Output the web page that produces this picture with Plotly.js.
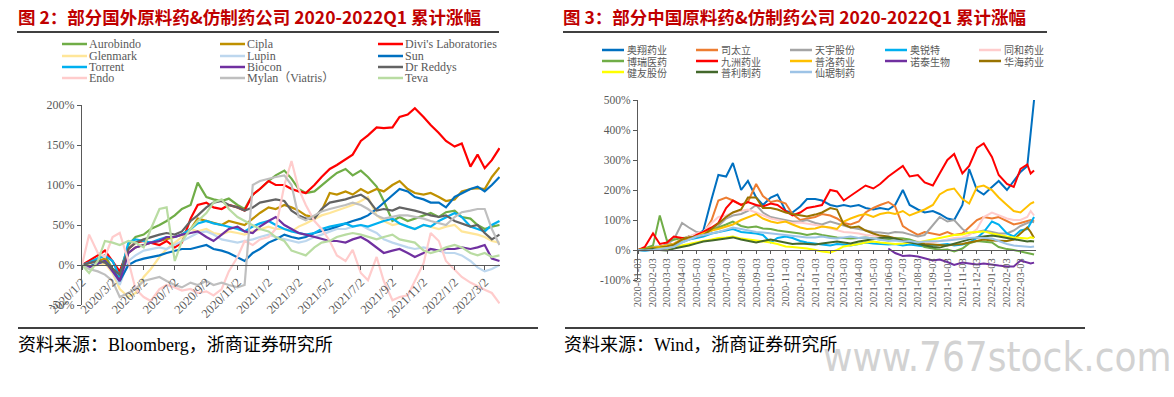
<!DOCTYPE html>
<html><head><meta charset="utf-8">
<script src="https://cdn.plot.ly/plotly-3.0.1.min.js"></script>
<style>html,body{margin:0;padding:0;background:#fff;} #chart{width:1174px;height:397px;}</style>
</head><body><div id="chart"></div>
<script>
// ---------- LEFT CHART DATA (cumulative change, %) ----------
const leftDates = ['2020-01-02','2020-01-16','2020-02-02','2020-02-16','2020-03-02','2020-03-16','2020-04-02','2020-04-16','2020-05-02','2020-05-16','2020-06-02','2020-06-16','2020-07-02','2020-07-16','2020-08-02','2020-08-16','2020-09-02','2020-09-16','2020-10-02','2020-10-16','2020-11-02','2020-11-16','2020-12-02','2020-12-16','2021-01-02','2021-01-16','2021-02-02','2021-02-16','2021-03-02','2021-03-16','2021-04-02','2021-04-16','2021-05-02','2021-05-16','2021-06-02','2021-06-16','2021-07-02','2021-07-16','2021-08-02','2021-08-16','2021-09-02','2021-09-16','2021-10-02','2021-10-16','2021-11-02','2021-11-16','2021-12-02','2021-12-16','2022-01-02','2022-01-16','2022-02-02','2022-02-16','2022-03-02','2022-03-16','2022-03-31'];
const leftNames = ['Aurobindo','Cipla',"Divi's Laboratories",'Glenmark','Lupin','Sun','Torrent','Biocon','Dr Reddys','Endo','Mylan（Viatris）','Teva'];
const aurobindo = [0,3, 8,12, -5,-10, 25,35, 38,45, 50,55, 62,70, 75,103, 85,82, 80,83, 75,70, 88,95, 105,112, 118,108, 95,90, 92,100, 108,115, 120,112, 118,110, 98,80, 55,60, 55,58, 62,65, 60,66, 68,60, 58,50, 45,48,50];
const cipla = [0,2, 5,8, -5,-18, 15,22, 25,28, 30,32, 35,38, 45,58, 55,52, 50,55, 52,50, 58,65, 72,70, 75,72, 68,62, 60,68, 90,88, 92,88, 95,90, 95,92, 100,105, 95,90, 88,90, 85,80, 82,92, 95,96, 95,110,122];
const divis = [0,5, 12,18, 5,-8, 20,28, 30,28, 25,30, 22,28, 58,75, 78,72, 70,75, 72,68, 88,95, 105,100, 100,95, 92,90, 100,110, 120,125, 132,138, 155,162, 172,171, 172,185, 188,196, 185,175, 165,155, 148,152, 123,138, 121,131,146];
const glenmark = [0,-3, 0,2, -10,-30, -40,-35, -15,-5, 10,20, 28,35, 45,42, 45,40, 38,42, 40,38, 42,45, 48,45, 45,42, 48,52, 58,62, 65,68, 72,75, 80,85, 62,55, 50,52, 48,45, 50,48, 45,48, 50,42, 40,38, 35,30,28];
const lupin = [0,-2, 2,5, -8,-25, 5,12, 18,20, 22,20, 25,30, 35,40, 42,38, 32,30, 28,30, 32,35, 38,35, 32,30, 28,30, 35,38, 42,45, 45,48, 50,45, 40,32, 28,25, 22,20, 22,20, 18,15, 15,12, 5,-3, -8,-5,0];
const sun = [0,-2, 2,5, -5,-20, 0,5, 8,10, 12,15, 18,20, 20,22, 25,20, 18,15, 10,5, 15,20, 28,32, 38,35, 33,35, 40,42, 45,48, 52,55, 58,62, 70,78, 88,95, 92,85, 82,78, 78,72, 85,90, 95,98, 92,100,110];
const torrent = [0,3, 8,12, 5,-15, 28,32, 30,28, 32,35, 35,38, 45,52, 55,52, 50,48, 45,42, 48,52, 55,50, 45,42, 40,38, 40,45, 48,50, 52,48, 50,48, 52,55, 58,52, 48,45, 50,48, 55,60, 65,60, 48,45, 42,50,55];
const biocon = [0,-3, 2,5, -8,-20, 15,22, 25,28, 30,35, 35,38, 40,42, 35,30, 38,45, 48,42, 40,48, 55,60, 50,45, 40,38, 35,32, 30,30, 28,32, 35,30, 22,15, 18,20, 15,10, 15,20, 18,20, 20,22, 20,22, 25,8,5];
const drreddys = [0,2, 5,3, -5,-12, 20,28, 32,35, 38,40, 38,42, 55,62, 72,78, 80,75, 72,68, 72,78, 80,82, 80,68, 62,58, 58,70, 78,80, 82,85, 88,82, 68,70, 68,72, 70,68, 65,62, 60,62, 55,52, 48,50, 40,32,38];
const endo = [0,38, 15,10, 35,40, 5,-30, -40,-45, -30,-25, -28,-32, -30,-35, -33,-38, -30,-8, 10,30, 25,32, 35,45, 100,130, 95,75, 55,45, 30,12, 5,19, -10,-19, 10,-20, -44,-40, -38,-20, 2,40, 30,5, -6,-15, -22,-27, -31,-35,-48];
const mylan = [0,-5, -8,-12, -20,-40, -35,-30, -20,-18, -15,-20, -25,-28, -22,-25, -20,-25, -22,-25, -28,-25, 100,105, 108,110, 112,100, 60,56, 62,67, 70,72, 75,78, 75,70, 62,58, 60,62, 62,60, 58,55, 52,50, 60,66, 68,70, 70,45,25];
const teva = [0,-10, 5,30, 28,25, 30,28, 22,45, 70,72, 5,30, 45,55, 65,78, 82,70, 60,55, 50,45, 42,35, 30,18, 15,12, 22,28, 30,35, 38,40, 38,35, 32,35, 38,32, 30,28, 18,15, 18,22, 25,22, 15,12, 15,10,12];
const leftSeries = [aurobindo, cipla, divis, glenmark, lupin, sun, torrent, biocon, drreddys, endo, mylan, teva];
const leftColors = ['#70AD47','#BF9000','#FF0000','#FFE699','#BDD7EE','#0070C0','#00B0F0','#7030A0','#636363','#FFCCCC','#BFBFBF','#B9DCA2'];
const leftTickVals = ['2020-01-02','2020-03-02','2020-05-02','2020-07-02','2020-09-02','2020-11-02','2021-01-02','2021-03-02','2021-05-02','2021-07-02','2021-09-02','2021-11-02','2022-01-02','2022-03-02'];
const leftTickText = ['2020/1/2','2020/3/2','2020/5/2','2020/7/2','2020/9/2','2020/11/2','2021/1/2','2021/3/2','2021/5/2','2021/7/2','2021/9/2','2021/11/2','2022/1/2','2022/3/2'];
const leftYVals = [-50,0,50,100,150,200];
const leftYText = ['-50%','0%','50%','100%','150%','200%'];

// ---------- RIGHT CHART DATA (cumulative change, %) ----------
const rightDates = ['2020-01-03','2020-01-17','2020-02-03','2020-02-17','2020-03-03','2020-03-17','2020-04-03','2020-04-17','2020-05-03','2020-05-17','2020-06-03','2020-06-17','2020-07-03','2020-07-17','2020-08-03','2020-08-17','2020-09-03','2020-09-17','2020-10-03','2020-10-17','2020-11-03','2020-11-17','2020-12-03','2020-12-17','2021-01-03','2021-01-17','2021-02-03','2021-02-17','2021-03-03','2021-03-17','2021-04-03','2021-04-17','2021-05-03','2021-05-17','2021-06-03','2021-06-17','2021-07-03','2021-07-17','2021-08-03','2021-08-17','2021-09-03','2021-09-17','2021-10-03','2021-10-17','2021-11-03','2021-11-17','2021-12-03','2021-12-17','2022-01-03','2022-01-17','2022-02-03','2022-02-17','2022-03-03','2022-03-17','2022-03-24','2022-03-31'];
const rightNames = ['奥翔药业','司太立','天宇股份','奥锐特','同和药业','博瑞医药','九洲药业','普洛药业','诺泰生物','华海药业','健友股份','普利制药','仙琚制药'];
const aoxiang = [0,5, 10,12, 15,20, 35,45, 50,65, 170,250, 245,290, 200,230, 175,150, 175,185, 130,125, 145,170, 170,165, 150,145, 150,145, 150,140, 135,140, 135,150, 200,150, 135,125, 130,120, 105,100, 150,270, 200,185, 210,230, 200,230, 260,280,380,500];
const sitaili = [0,-2, 5,10, 15,20, 35,45, 50,55, 100,165, 175,165, 150,160, 220,180, 160,165, 155,120, 100,105, 110,120, 115,105, 90,85, 95,125, 140,150, 160,145, 80,65, 50,60, 55,50, 60,50, 55,75, 100,110, 105,110, 95,85, 90,95,100,95];
const tianyu = [0,5, 10,8, 20,35, 90,75, 60,55, 65,80, 105,115, 120,130, 150,125, 110,105, 100,95, 95,100, 90,85, 95,88, 80,75, 70,65, 60,58, 55,60, 58,52, 45,50, 85,110, 95,100, 70,55, 60,65, 60,55, 55,65, 80,90,95,92];
const aoruite = [0,-3, 2,5, 10,15, 25,35, 40,45, 55,60, 65,70, 60,58, 55,50, 25,40, 45,40, 30,25, 20,18, 15,20, 18,15, 20,25, 22,20, 18,20, 15,18, 15,12, 15,18, 20,15, 18,25, 40,60, 95,85, 55,45, 65,70,90,110];
const tonghe = [0,3, 5,8, 10,20, 35,45, 55,60, 90,110, 115,125, 130,135, 125,115, 105,100, 95,90, 92,88, 85,80, 72,65, 60,58, 55,50, 48,45, 42,40, 38,32, 28,25, 25,30, 35,40, 42,50, 70,110, 125,115, 105,100, 100,110,130,115];
const borui = [0,5, 15,115, 30,35, 40,42, 45,55, 65,75, 85,95, 80,75, 78,72, 70,65, 62,58, 55,50, 55,50, 45,42, 40,38, 40,42, 38,35, 35,40, 38,35, 25,10, 5,0, 2,-5, 5,22, 30,28, 25,10, 3,0, -5,-8,-12,-15];
const jiuzhou = [0,10, 55,20, 25,45, 40,35, 50,60, 75,90, 140,165, 150,160, 150,145, 155,150, 130,115, 125,140, 145,150, 200,195, 165,180, 200,215, 205,220, 245,260, 280,245, 250,225, 215,255, 300,320, 255,280, 340,355, 310,250, 220,210, 270,285,255,265];
const pulo = [0,3, 8,10, 15,20, 35,40, 45,55, 65,70, 78,85, 100,110, 120,105, 95,90, 95,85, 75,70, 72,78, 75,70, 95,105, 115,120, 110,120, 125,120, 130,115, 125,135, 150,185, 200,205, 170,155, 210,215, 200,175, 150,130, 125,145,155,160];
const notai = [null,null,null,null,null,null,null,null,null,null,null,null,null,null,null,null,null,null,null,null,null,null,null,null,null,null,null,null,null,null,null,null,null,null, 5,-10, -20,-18, -22,-28, -35,-32, -40,-50, -42,-45, -48,-45, -50,-52, -55,-55, -35,-40,-45,-42];
const huahai = [0,2, 5,8, 12,18, 35,42, 45,50, 70,90, 110,125, 135,175, 175,140, 140,135, 125,120, 115,112, 118,125, 140,135, 85,75, 78,65, 55,48, 45,38, 32,28, 25,20, 18,15, 15,18, 20,25, 30,35, 32,30, 30,35, 55,75,60,40];
const jianyou = [0,2, 3,5, 5,10, 15,20, 25,30, 35,40, 42,45, 38,35, 32,30, 25,20, 12,10, 8,5, 0,-5, -8,0, 12,15, 20,25, 28,25, 22,20, 22,25, 25,30, 35,40, 45,50, 52,58, 60,62, 55,50, 45,42, 40,38,42,40];
const puli = [0,2, 3,0, -2,5, 10,15, 22,28, 32,35, 38,42, 35,30, 25,30, 35,30, 25,20, 22,20, 18,22, 25,28, 25,22, 28,32, 38,40, 42,38, 30,25, 20,15, 10,8, 15,22, 28,35, 42,45, 48,45, 40,35, 30,28,30,28];
const xianju = [0,-2, 0,3, 5,10, 25,35, 45,50, 55,60, 68,75, 70,65, 60,58, 55,52, 50,48, 45,42, 42,45, 40,38, 42,45, 40,42, 38,35, 30,32, 28,30, 25,28, 28,30, 32,35, 38,40, 42,40, 38,30, 20,15, 12,10,10,12];
const rightSeries = [aoxiang, sitaili, tianyu, aoruite, tonghe, borui, jiuzhou, pulo, notai, huahai, jianyou, puli, xianju];
const rightColors = ['#0070C0','#ED7D31','#A5A5A5','#00B0F0','#FFCCCC','#70AD47','#FF0000','#FFC000','#7030A0','#997300','#FFFF00','#43682B','#9DC3E6'];
const rightTickVals = ['2020-01-03','2020-02-03','2020-03-03','2020-04-03','2020-05-03','2020-06-03','2020-07-03','2020-08-03','2020-09-03','2020-10-03','2020-11-03','2020-12-03','2021-01-03','2021-02-03','2021-03-03','2021-04-03','2021-05-03','2021-06-03','2021-07-03','2021-08-03','2021-09-03','2021-10-03','2021-11-03','2021-12-03','2022-01-03','2022-02-03','2022-03-03'];
const rightYVals = [-100,0,100,200,300,400,500];
const rightYText = ['-100%','0%','100%','200%','300%','400%','500%'];

// ---------- TEXTS ----------
const leftTitle = '图 2：部分国外原料药&amp;仿制药公司 2020-2022Q1 累计涨幅';
const rightTitle = '图 3：部分中国原料药&amp;仿制药公司 2020-2022Q1 累计涨幅';
const leftSource = '资料来源：Bloomberg，浙商证券研究所';
const rightSource = '资料来源：Wind，浙商证券研究所';
const watermark = 'www.767stock.com';

// ---------- LAYOUT ----------
const W = 1174, H = 397;
const px = x => x / W, py = y => 1 - y / H;
const axisGray = '#595959';
const serif = 'Liberation Serif, Noto Sans CJK SC, serif';

const traces = [];
leftSeries.forEach((s, i) => traces.push({x: leftDates, y: s, type: 'scatter', mode: 'lines', name: leftNames[i],
  xaxis: 'x', yaxis: 'y', line: {color: leftColors[i], width: 2.2}, hoverinfo: 'skip'}));
rightSeries.forEach((s, i) => traces.push({x: rightDates, y: s, type: 'scatter', mode: 'lines', name: rightNames[i],
  xaxis: 'x2', yaxis: 'y2', line: {color: rightColors[i], width: 2}, connectgaps: false, hoverinfo: 'skip'}));

const shapes = [], annotations = [];
function hline(x0, x1, y, w) {
  shapes.push({type: 'line', xref: 'paper', yref: 'paper', x0: px(x0), x1: px(x1), y0: py(y), y1: py(y), line: {color: '#000', width: w}});
}
hline(17, 499, 32, 1.5); hline(563, 1047, 32, 1.5);
hline(18, 538, 328, 1.5); hline(565, 1085, 328, 1.5);

function addLegend(names, colors, cols, x0s, ys, segLen, textOff, font) {
  names.forEach((n, i) => {
    const r = Math.floor(i / cols), c = i % cols;
    const x = x0s[c], y = ys[r];
    shapes.push({type: 'line', xref: 'paper', yref: 'paper', x0: px(x), x1: px(x + segLen), y0: py(y), y1: py(y),
      line: {color: colors[i], width: 2.5}});
    annotations.push({xref: 'paper', yref: 'paper', x: px(x + textOff), y: py(y), xanchor: 'left', yanchor: 'middle',
      text: n, showarrow: false, font: font, borderpad: 0});
  });
}
addLegend(leftNames, leftColors, 3, [62, 220, 378], [44, 56, 67, 78], 25, 26,
  {family: serif, size: 12, color: axisGray});
addLegend(rightNames, rightColors, 5, [602, 696, 790, 885, 979], [50, 61, 72], 22, 24,
  {family: 'Noto Sans CJK SC, sans-serif', size: 10, color: axisGray});

const titleFont = {family: 'Noto Sans CJK SC, Liberation Sans, sans-serif', size: 17.5, color: '#C00000', weight: 'bold'};
annotations.push({xref: 'paper', yref: 'paper', x: px(17), y: py(16), xanchor: 'left', yanchor: 'middle', text: leftTitle, showarrow: false, font: titleFont, borderpad: 0});
annotations.push({xref: 'paper', yref: 'paper', x: px(562), y: py(16), xanchor: 'left', yanchor: 'middle', text: rightTitle, showarrow: false, font: titleFont, borderpad: 0});
const srcFont = {family: serif, size: 18, color: '#000'};
annotations.push({xref: 'paper', yref: 'paper', x: px(17), y: py(345), xanchor: 'left', yanchor: 'middle', text: leftSource, showarrow: false, font: srcFont, borderpad: 0});
annotations.push({xref: 'paper', yref: 'paper', x: px(563), y: py(345), xanchor: 'left', yanchor: 'middle', text: rightSource, showarrow: false, font: srcFont, borderpad: 0});
annotations.push({xref: 'paper', yref: 'paper', x: px(1173), y: py(357), xanchor: 'right', yanchor: 'middle', text: watermark, showarrow: false,
  font: {family: 'Liberation Sans Narrow, DejaVu Sans Condensed, Liberation Sans, sans-serif', size: 40, color: '#D2D2D2'}, borderpad: 0});

const tickFont = {family: serif, size: 12, color: axisGray};
const layout = {
  width: W, height: H, margin: {l: 0, r: 0, t: 0, b: 0}, paper_bgcolor: '#fff', plot_bgcolor: 'rgba(0,0,0,0)',
  showlegend: false, shapes: shapes, annotations: annotations,
  xaxis: {type: 'date', domain: [px(82), px(500)], range: ['2020-01-02', '2022-04-01'], anchor: 'free', position: py(265),
    showgrid: false, zeroline: false, showline: true, linecolor: axisGray, linewidth: 1,
    ticks: 'outside', ticklen: 4, tickcolor: axisGray, tickvals: leftTickVals, ticktext: leftTickText, tickangle: -45,
    tickfont: {family: serif, size: 12.5, color: axisGray}},
  yaxis: {domain: [py(305), py(105)], range: [-50, 200], anchor: 'x', showgrid: false, zeroline: false,
    showline: true, linecolor: axisGray, linewidth: 1, ticks: 'outside', ticklen: 4, tickcolor: axisGray,
    tickvals: leftYVals, ticktext: leftYText, tickfont: tickFont},
  xaxis2: {type: 'date', domain: [px(638), px(1036)], range: ['2020-01-03', '2022-04-04'], anchor: 'free', position: py(250),
    showgrid: false, zeroline: false, showline: true, linecolor: axisGray, linewidth: 1,
    ticks: 'outside', ticklen: 3, tickcolor: axisGray, tickvals: rightTickVals, ticktext: rightTickVals, tickangle: -90,
    tickfont: {family: serif, size: 10.5, color: axisGray}},
  yaxis2: {domain: [py(280), py(100)], range: [-100, 500], anchor: 'x2', showgrid: false, zeroline: false,
    showline: true, linecolor: axisGray, linewidth: 1, ticks: 'outside', ticklen: 4, tickcolor: axisGray,
    tickvals: rightYVals, ticktext: rightYText, tickfont: {family: serif, size: 11.5, color: axisGray}}
};
Plotly.newPlot('chart', traces, layout, {staticPlot: true, displayModeBar: false});
</script></body></html>
